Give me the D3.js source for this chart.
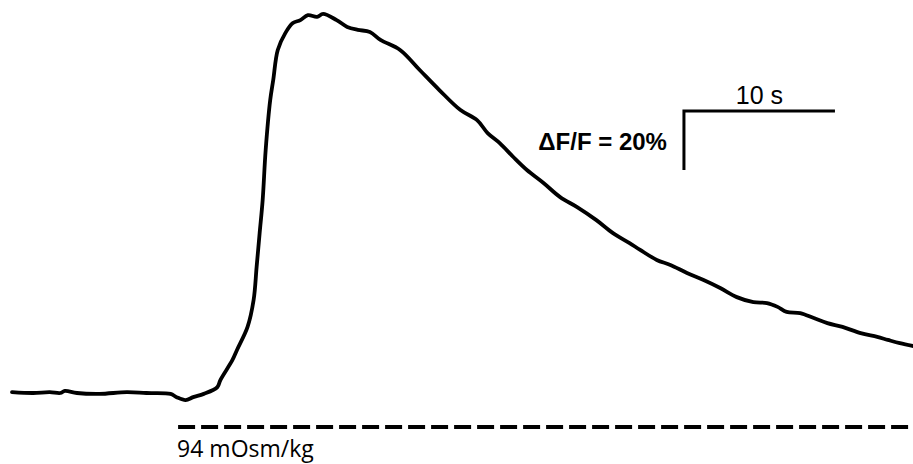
<!DOCTYPE html>
<html>
<head>
<meta charset="utf-8">
<script src="https://cdn.jsdelivr.net/npm/d3@7"></script>
<style>
  html, body { margin: 0; padding: 0; background: #fff; }
  svg { display: block; }
</style>
</head>
<body>
<svg id="chart" width="913" height="464"></svg>
<script>
// Calcium response trace: time (s) vs ΔF/F (%)
const timeSec = [
  0.0, 1.4, 2.5, 3.2, 3.5, 4.3, 5.8, 7.6, 8.9, 10.5, 10.9, 11.5, 12.0, 12.7,
  13.6, 13.8, 14.6, 14.9, 15.6, 16.0, 16.2, 16.4, 16.6, 16.8, 17.1, 17.3,
  17.6, 18.1, 18.6, 19.1, 19.6, 20.2, 20.6, 21.5, 22.2, 22.9, 23.7, 24.4,
  25.7, 27.0, 28.3, 29.7, 30.8, 31.5, 32.3, 33.2, 34.1, 35.2, 36.3, 37.4,
  38.7, 39.8, 40.9, 41.6, 42.7, 43.6, 44.7, 45.8, 46.9, 48.0, 49.1, 50.0,
  50.7, 51.3, 52.2, 53.1, 54.0, 55.0, 56.2, 57.3, 58.0, 58.8, 59.7
];
const dFF = [
  0.3, 0.0, 0.3, 0.0, 0.7, 0.0, -0.3, 0.3, 0.0, -0.3, -1.4, -2.4, -1.4, -0.3,
  2.0, 4.4, 11.2, 14.6, 22.4, 31.5, 42.7, 54.2, 65.4, 82.4, 99.3, 106.1,
  116.3, 122.0, 125.4, 126.4, 128.1, 127.5, 128.5, 126.4, 124.1, 123.1, 122.4, 119.7,
  116.3, 109.5, 102.7, 95.9, 92.5, 88.1, 84.7, 80.0, 75.6, 71.2, 66.4, 63.1,
  58.6, 54.2, 50.8, 48.5, 45.1, 43.4, 40.7, 38.3, 35.6, 32.5, 30.8, 30.5,
  29.2, 27.5, 27.1, 25.4, 23.7, 22.4, 20.3, 19.0, 18.0, 16.9, 15.9
];

// Stimulus period (s) and its label
const stimulus = [11.0, 60.0];
const stimulusLabel = ["94 mOsm/kg"];

// Scale bar: anchor corner (s, %), lengths and labels
const scaleBarCorner = [44.5, 95.6];
const scaleBarSize = [10, 20];
const scaleBarLabels = ["10 s", "ΔF/F = 20%"];

const svg = d3.select("#chart");

// 10 s spans 151 px, 20 % spans 59 px
const x = d3.scaleLinear().domain([0, 60]).range([12, 12 + 60 * 15.1]);
const y = d3.scaleLinear().domain([0, 100]).range([393, 393 - 100 * 2.95]);

const line = d3.line()
  .x((d, i) => x(timeSec[i]))
  .y(d => y(d))
  .curve(d3.curveCatmullRom.alpha(0.5));

svg.append("path")
  .datum(dFF)
  .attr("d", line)
  .attr("fill", "none")
  .attr("stroke", "#000")
  .attr("stroke-width", 3.8)
  .attr("stroke-linejoin", "round")
  .attr("stroke-linecap", "round");

// Stimulus bar
const stimY = 427;
svg.append("line")
  .attr("x1", x(stimulus[0]))
  .attr("x2", x(stimulus[1]))
  .attr("y1", stimY)
  .attr("y2", stimY)
  .attr("stroke", "#000")
  .attr("stroke-width", 4)
  .attr("stroke-dasharray", "17 6");

svg.append("text")
  .attr("x", x(stimulus[0]) - 1)
  .attr("y", 457)
  .attr("font-family", "'Open Sans', sans-serif")
  .attr("font-size", 23)
  .attr("fill", "#000")
  .text(stimulusLabel[0]);

// Scale bar
const cx = x(scaleBarCorner[0]);
const cy = y(scaleBarCorner[1]);
const hx = x(scaleBarCorner[0] + scaleBarSize[0]);
const vy = y(scaleBarCorner[1] - scaleBarSize[1]);

svg.append("path")
  .attr("d", `M${hx},${cy}H${cx}V${vy}`)
  .attr("fill", "none")
  .attr("stroke", "#000")
  .attr("stroke-width", 3)
  .attr("stroke-linejoin", "miter");

svg.append("text")
  .attr("x", (cx + hx) / 2)
  .attr("y", cy - 7)
  .attr("text-anchor", "middle")
  .attr("font-family", "'Liberation Sans', Arial, sans-serif")
  .attr("font-size", 25)
  .attr("fill", "#000")
  .text(scaleBarLabels[0]);

svg.append("text")
  .attr("x", cx - 17)
  .attr("y", 150)
  .attr("text-anchor", "end")
  .attr("font-family", "'Liberation Sans', Arial, sans-serif")
  .attr("font-weight", "bold")
  .attr("font-size", 24)
  .attr("fill", "#000")
  .text(scaleBarLabels[1]);
</script>
</body>
</html>
